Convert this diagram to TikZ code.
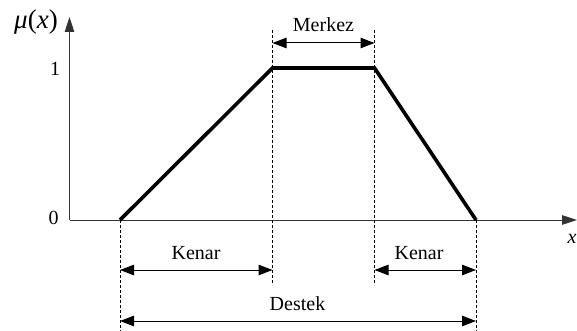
\documentclass[tikz,border=0pt]{standalone}
\usepackage{fontspec}
\setmainfont{Liberation Serif}
\usetikzlibrary{arrows.meta, positioning, calc}
\tikzset{
  every picture/.style={line width=0.8pt},
  axis/.style={-{Triangle[length=15pt, width=9.5pt]}, line width=1pt, draw=black!80},
  mf/.style={line width=3.6pt},
  guide/.style={dash pattern=on 3pt off 2pt, line width=0.7pt},
  span/.style={{Triangle[length=14pt, width=10.5pt]}-{Triangle[length=14pt, width=10.5pt]}, line width=1pt},
  lbl/.style={font=\fontsize{20}{24}\selectfont, inner sep=0pt},
}

\begin{document}
\begin{tikzpicture}[x=1pt, y=-1pt]
  \useasboundingbox (0,0) rectangle (577,331);
  % axes
  \coordinate (o) at (69.5,220);
  \coordinate (ytip) at (69.5,17);
  \coordinate (xtip) at (577,220);
  \draw[axis] (o) -- (ytip);
  \draw[axis] (o) -- (xtip);
  \node[lbl, font=\fontsize{27}{30}\selectfont] (mu) at (36,22) {\itshape μ\upshape(\itshape x\upshape)};
  \node[lbl] (xlab) at (572,239) {\itshape x};
  \node[lbl] (zero) at (53.5,218) {0};
  \node[lbl] (one) at (55,68.5) {1};
  % trapezoid corners
  \coordinate (a) at (120,220);
  \coordinate (b) at (272.5,68);
  \coordinate (c) at (374.5,68);
  \coordinate (d) at (476,220);
  \draw[mf] (a) -- (b) -- (c) -- (d);
  % guide lines
  \coordinate (ga) at (120,331);
  \coordinate (gb1) at (272.5,30);
  \coordinate (gb2) at (272.5,285);
  \coordinate (gc1) at (374.5,30);
  \coordinate (gc2) at (374.5,285);
  \coordinate (gd) at (476,331);
  \draw[guide] (a) -- (ga);
  \draw[guide] (gb1) -- (gb2);
  \draw[guide] (gc1) -- (gc2);
  \draw[guide] (d) -- (gd);
  % spans
  \draw[span] (gb1 |- 0,43) coordinate (m1) -- (gc1 |- 0,43) coordinate (m2);
  \draw[span] (a |- 0,270) coordinate (k1) -- (gb2 |- 0,270) coordinate (k2);
  \draw[span] (gc2 |- 0,270) coordinate (k3) -- (d |- 0,270) coordinate (k4);
  \draw[span] (a |- 0,321) coordinate (s1) -- (d |- 0,321) coordinate (s2);
  \node[lbl, anchor=base] (merkez) at (323.5,32) {Merkez};
  \node[lbl, anchor=base] (kenar1) at (196,259) {Kenar};
  \node[lbl, anchor=base] (kenar2) at (419,259) {Kenar};
  \node[lbl, anchor=base] (destek) at (297.5,310) {Destek};
\end{tikzpicture}
\end{document}
